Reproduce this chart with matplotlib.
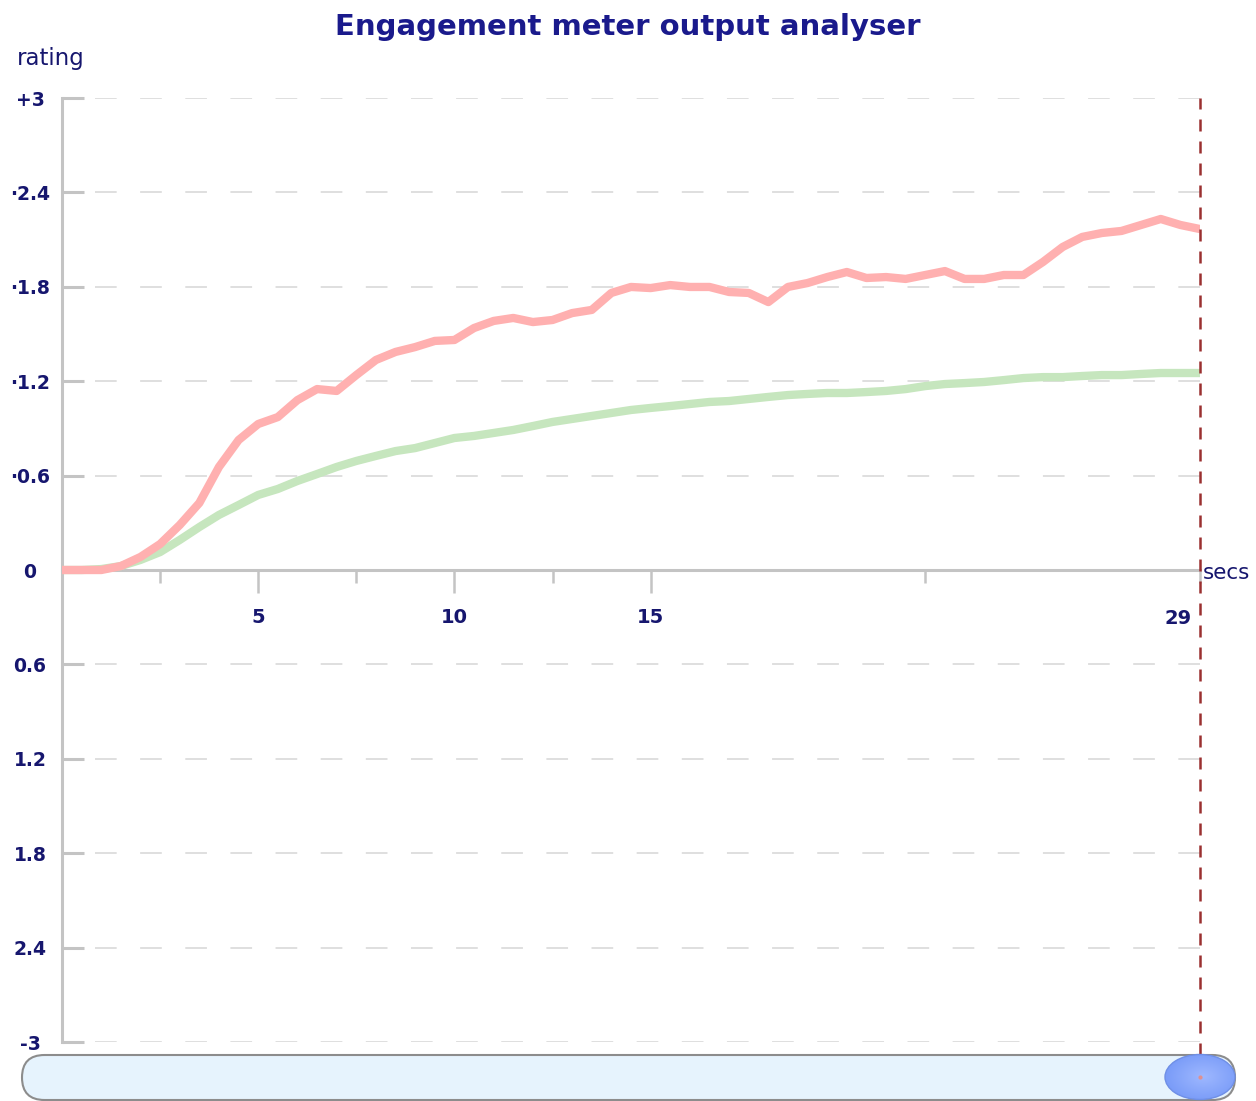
import matplotlib
matplotlib.use("Agg")
import matplotlib.pyplot as plt
import numpy as np
from matplotlib.patches import FancyBboxPatch, Ellipse
from matplotlib.transforms import ScaledTranslation

# ---------------- data ----------------
time_secs = [0, 0.5, 1, 1.5, 2, 2.5, 3, 3.5, 4, 4.5, 5, 5.5, 6, 6.5, 7, 7.5, 8, 8.5, 9, 9.5,
             10, 10.5, 11, 11.5, 12, 12.5, 13, 13.5, 14, 14.5, 15, 15.5, 16, 16.5, 17, 17.5,
             18, 18.5, 19, 19.5, 20, 20.5, 21, 21.5, 22, 22.5, 23, 23.5, 24, 24.5, 25, 25.5,
             26, 26.5, 27, 27.5, 28, 28.5, 29]

red_rating = [0.0, 0.0, 0.0, 0.025, 0.083, 0.165, 0.286, 0.426, 0.655, 0.826, 0.928, 0.972,
              1.08, 1.15, 1.138, 1.239, 1.335, 1.386, 1.417, 1.456, 1.462, 1.538, 1.583, 1.602,
              1.576, 1.589, 1.633, 1.653, 1.761, 1.799, 1.792, 1.811, 1.799, 1.799, 1.767, 1.761,
              1.703, 1.799, 1.824, 1.862, 1.894, 1.856, 1.862, 1.85, 1.875, 1.9, 1.85, 1.85,
              1.875, 1.875, 1.958, 2.053, 2.117, 2.142, 2.155, 2.193, 2.231, 2.193, 2.167]

green_rating = [0.0, 0.0, 0.006, 0.025, 0.064, 0.114, 0.191, 0.273, 0.35, 0.413, 0.477, 0.515,
                0.566, 0.61, 0.655, 0.693, 0.725, 0.756, 0.775, 0.807, 0.839, 0.852, 0.871, 0.89,
                0.915, 0.941, 0.96, 0.979, 0.998, 1.017, 1.03, 1.042, 1.055, 1.068, 1.074, 1.087,
                1.1, 1.112, 1.119, 1.125, 1.125, 1.131, 1.138, 1.15, 1.169, 1.182, 1.188, 1.195,
                1.207, 1.22, 1.226, 1.226, 1.233, 1.239, 1.239, 1.246, 1.252, 1.252, 1.252]

y_ticks = [-3, -2.4, -1.8, -1.2, -0.6, 0, 0.6, 1.2, 1.8, 2.4, 3]
y_tick_labels = ["-3", "2.4", "1.8", "1.2", "0.6", "0", "\u00b70.6", "\u00b71.2", "\u00b71.8", "\u00b72.4", "+3"]
x_major_ticks = [5, 10, 15]
x_major_labels = ["5", "10", "15"]
x_minor_ticks = [2.5, 7.5, 12.5, 22, 29]
x_minor_labels = ["", "", "", "", "29"]
cursor_time = 29

title = "Engagement meter output analyser"

# ---------------- style ----------------
W, H = 1256, 1101
NAVY = "#16166e"
TITLE_NAVY = "#1a1a8c"
AXGRAY = "#c4c4c4"
GRIDGRAY = "#dcdcdc"
plt.rcParams["font.family"] = ["DejaVu Sans"]

fig = plt.figure(figsize=(W / 100, H / 100), dpi=100)
fig.patch.set_facecolor("white")

ax_left, ax_right, ax_top, ax_bottom = 62, 1200, 98, 1042
ax = fig.add_axes([ax_left / W, 1 - ax_bottom / H, (ax_right - ax_left) / W, (ax_bottom - ax_top) / H])
ax.set_xlim(0, 29)
ax.set_ylim(-3, 3)
ax.set_facecolor("white")

for s in ("top", "right"):
    ax.spines[s].set_visible(False)
ax.spines["bottom"].set_position(("data", 0))
ax.spines["bottom"].set_color(AXGRAY)
ax.spines["bottom"].set_linewidth(2.2)
ax.spines["left"].set_color(AXGRAY)
ax.spines["left"].set_linewidth(2.2)

# grid dashes
grid_start = (95 - ax_left) / (ax_right - ax_left)
for yv in y_ticks:
    if yv == 0:
        continue
    ax.axhline(yv, xmin=grid_start, xmax=1, color=GRIDGRAY, lw=1.3, dashes=(12, 13), zorder=1)

# y ticks
ax.set_yticks(y_ticks)
ax.set_yticklabels(y_tick_labels)
ax.tick_params(axis="y", direction="in", length=16, width=2.2, color=AXGRAY, pad=23,
               labelsize=13.5, labelcolor=NAVY)
for lab in ax.get_yticklabels():
    lab.set_horizontalalignment("center")
    lab.set_fontweight("bold")

# x ticks
ax.set_xticks(x_major_ticks)
ax.set_xticklabels(x_major_labels)
ax.set_xticks(x_minor_ticks, minor=True)
ax.set_xticklabels(x_minor_labels, minor=True)
ax.tick_params(axis="x", which="major", direction="out", length=16.5, width=1.8, color=AXGRAY,
               pad=11, labelsize=14, labelcolor=NAVY)
ax.tick_params(axis="x", which="minor", direction="out", length=9, width=1.8, color=AXGRAY,
               pad=19, labelsize=14, labelcolor=NAVY)
for lab in ax.get_xticklabels() + ax.get_xticklabels(minor=True):
    lab.set_fontweight("bold")
for lab in ax.get_xticklabels(minor=True):
    lab.set_horizontalalignment("right")
    lab.set_transform(lab.get_transform() + ScaledTranslation(-8 / 100, 0, fig.dpi_scale_trans))

# series
ax.plot(time_secs, green_rating, color="#c6e6be", lw=6.0, zorder=3, solid_capstyle="butt")
ax.plot(time_secs, red_rating, color="#ffb0b0", lw=6.0, zorder=4, solid_capstyle="butt")

# cursor line
ax.axvline(cursor_time, ymin=-(1077 - ax_bottom) / (ax_bottom - ax_top), ymax=1, clip_on=False,
           color="#9a3030", lw=1.8, dashes=(4.8, 4), zorder=5)

# texts
fig.text(628 / W, 1 - 27 / H, title, ha="center", va="center", fontsize=21,
         fontweight="bold", color=TITLE_NAVY)
fig.text(17 / W, 1 - 58 / H, "rating", ha="left", va="center", fontsize=16.5, color=NAVY)
fig.text(1203 / W, 1 - 573 / H, "secs", ha="left", va="center", fontsize=15.5, color=NAVY)

# slider decoration (pixel coordinates)
deco = fig.add_axes([0, 0, 1, 1], zorder=10)
deco.set_xlim(0, W)
deco.set_ylim(H, 0)
deco.axis("off")
deco.patch.set_alpha(0)

sl_x0, sl_x1, sl_y0, sl_y1 = 22, 1235, 1055, 1100
r = (sl_y1 - sl_y0) / 2
capsule = FancyBboxPatch((sl_x0, sl_y0), sl_x1 - sl_x0, sl_y1 - sl_y0,
                         boxstyle=f"round,pad=0,rounding_size={r}",
                         facecolor="#e6f3fd", edgecolor="#8c8c8c", lw=1.5)
deco.add_patch(capsule)

knob_cx, knob_cy, knob_w, knob_h = 1200, 1077, 70, 45
knob = Ellipse((knob_cx, knob_cy), knob_w, knob_h, facecolor="none", edgecolor="#6f8fe6", lw=1.0, zorder=12)
grad = np.linspace(0, 1, 64)
gx, gy = np.meshgrid(grad, grad)
dist = np.sqrt((gx - 0.55) ** 2 + (gy - 0.5) ** 2)
c0 = np.array([0.62, 0.72, 1.0])
c1 = np.array([0.36, 0.52, 0.95])
img = c0[None, None, :] * (1 - dist[..., None]) + c1[None, None, :] * dist[..., None]
img = np.clip(img, 0, 1)
im = deco.imshow(img, extent=[knob_cx - knob_w / 2, knob_cx + knob_w / 2,
                              knob_cy + knob_h / 2, knob_cy - knob_h / 2],
                 zorder=11, aspect="auto", interpolation="bilinear")
clip_e = Ellipse((knob_cx, knob_cy), knob_w, knob_h, transform=deco.transData)
im.set_clip_path(clip_e)
deco.add_patch(knob)
deco.plot([knob_cx], [knob_cy], marker="o", ms=2, color="#e09090", zorder=13)
deco.set_xlim(0, W)
deco.set_ylim(H, 0)

fig.savefig("out.png", dpi=100)
